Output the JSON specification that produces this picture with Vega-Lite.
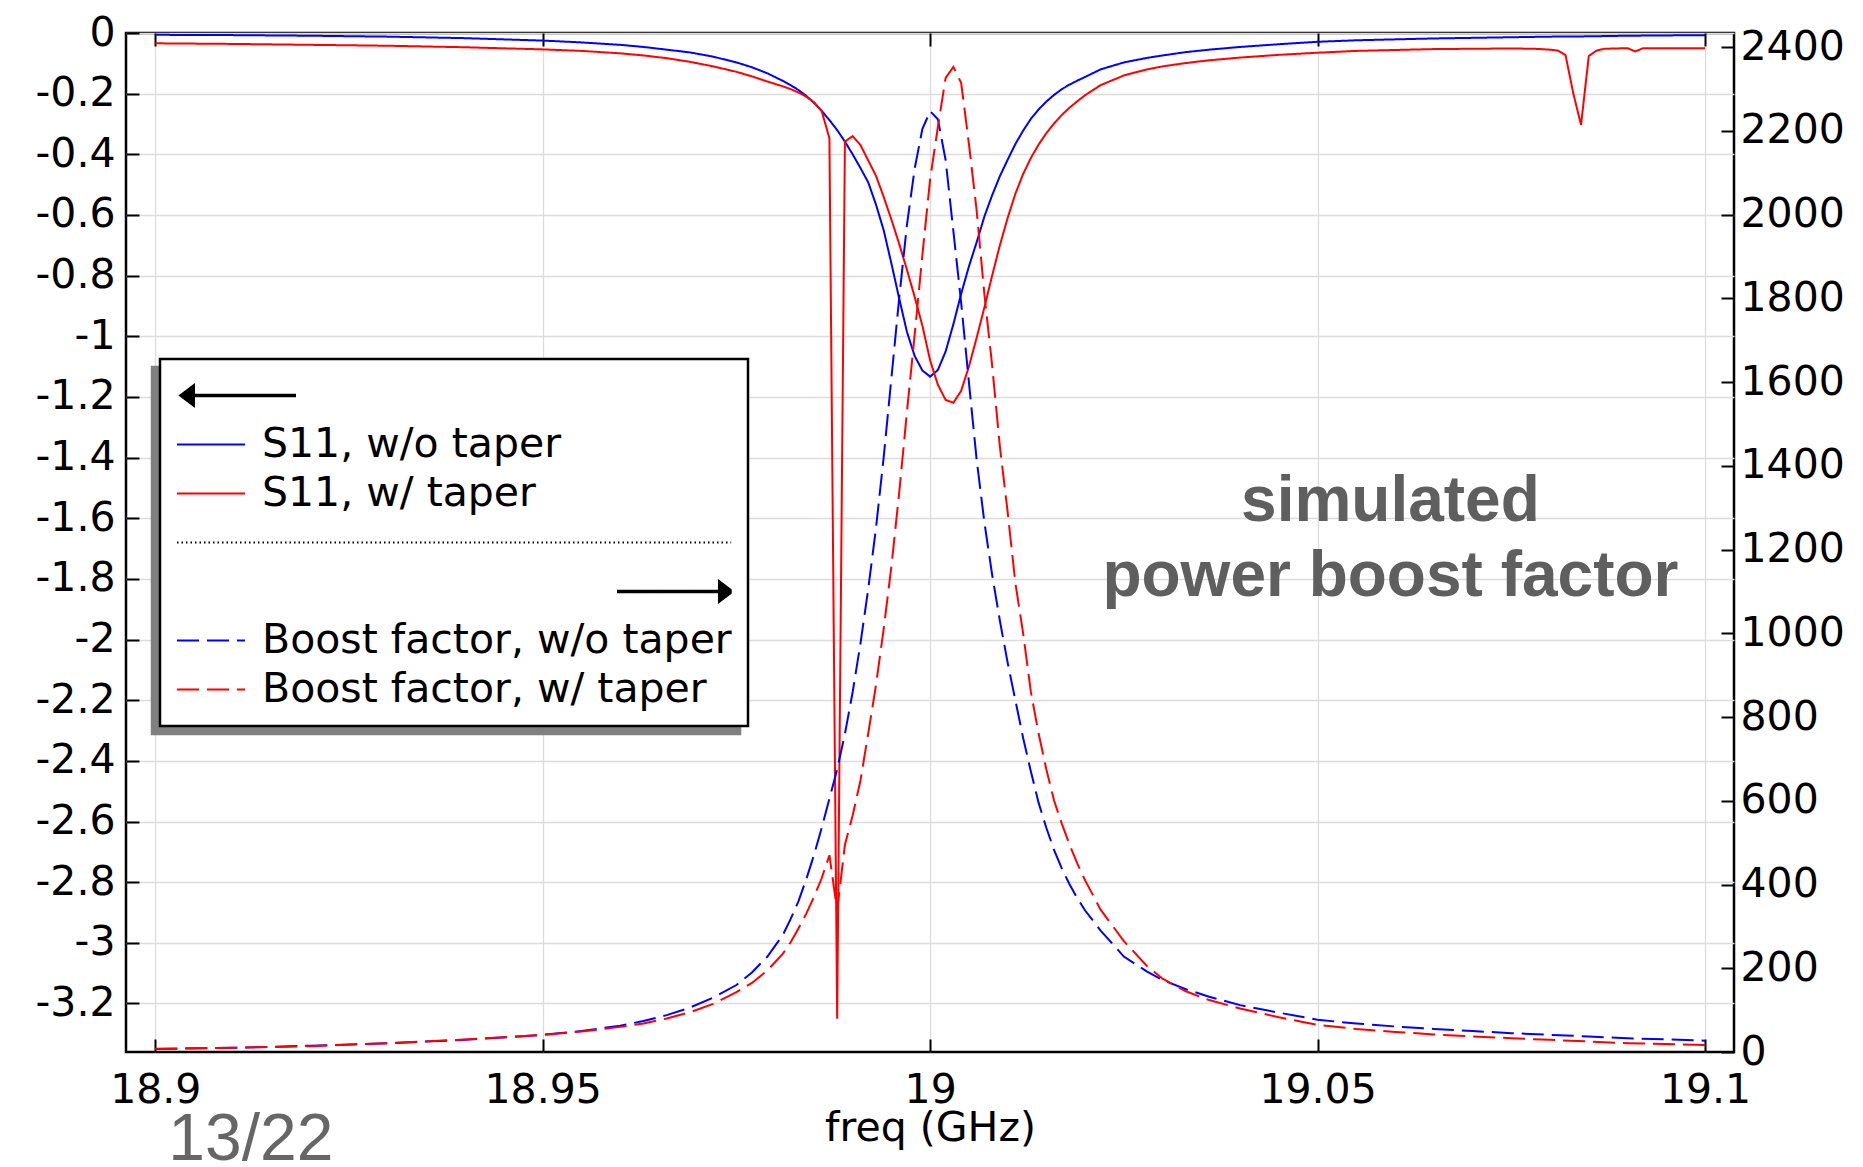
{
  "$schema": "https://vega.github.io/schema/vega-lite/v6.json",
  "width": 1608,
  "height": 1019,
  "autosize": {"type": "none"},
  "padding": {"left": 126, "top": 33, "right": 129, "bottom": 115},
  "background": "white",
  "config": {
    "view": {"stroke": "black", "strokeWidth": 2.5},
    "axis": {
      "labelFont": "DejaVu Sans", "labelFontSize": 41, "labelColor": "black",
      "titleFont": "DejaVu Sans", "titleFontSize": 41, "titleFontWeight": "normal", "titleColor": "black",
      "tickColor": "black", "tickWidth": 2, "tickSize": -13, "domain": false,
      "gridColor": "#dcdcdc", "gridWidth": 1.3, "gridOpacity": 1,
      "labelFlush": false, "labelOverlap": false
    },
    "legend": {
      "orient": "none", "legendX": 34, "legendY": 326, "padding": 16, "rowPadding": 7, "clipHeight": 41,
      "fillColor": "white", "strokeColor": "black", "strokeWidth": 2.5,
      "symbolSize": 4624, "symbolStrokeWidth": 2,
      "labelFont": "DejaVu Sans", "labelFontSize": 41, "labelColor": "black", "labelLimit": 2000, "labelOffset": 16
    }
  },
  "datasets": {
    "s11": [
      {"f":18.900,"s":"S11, w/o taper","v":-0.006},{"f":18.910,"s":"S11, w/o taper","v":-0.007},{"f":18.920,"s":"S11, w/o taper","v":-0.009},{"f":18.930,"s":"S11, w/o taper","v":-0.012},{"f":18.940,"s":"S11, w/o taper","v":-0.017},{"f":18.950,"s":"S11, w/o taper","v":-0.025},{"f":18.955,"s":"S11, w/o taper","v":-0.031},{"f":18.960,"s":"S11, w/o taper","v":-0.039},{"f":18.963,"s":"S11, w/o taper","v":-0.046},{"f":18.966,"s":"S11, w/o taper","v":-0.055},{"f":18.969,"s":"S11, w/o taper","v":-0.064},{"f":18.972,"s":"S11, w/o taper","v":-0.078},{"f":18.975,"s":"S11, w/o taper","v":-0.097},{"f":18.977,"s":"S11, w/o taper","v":-0.113},{"f":18.979,"s":"S11, w/o taper","v":-0.133},{"f":18.981,"s":"S11, w/o taper","v":-0.158},{"f":18.982,"s":"S11, w/o taper","v":-0.172},{"f":18.983,"s":"S11, w/o taper","v":-0.188},{"f":18.984,"s":"S11, w/o taper","v":-0.207},{"f":18.985,"s":"S11, w/o taper","v":-0.230},{"f":18.986,"s":"S11, w/o taper","v":-0.257},{"f":18.987,"s":"S11, w/o taper","v":-0.287},{"f":18.988,"s":"S11, w/o taper","v":-0.320},{"f":18.989,"s":"S11, w/o taper","v":-0.358},{"f":18.990,"s":"S11, w/o taper","v":-0.400},{"f":18.991,"s":"S11, w/o taper","v":-0.445},{"f":18.992,"s":"S11, w/o taper","v":-0.492},{"f":18.993,"s":"S11, w/o taper","v":-0.565},{"f":18.994,"s":"S11, w/o taper","v":-0.650},{"f":18.995,"s":"S11, w/o taper","v":-0.760},{"f":18.996,"s":"S11, w/o taper","v":-0.875},{"f":18.997,"s":"S11, w/o taper","v":-0.985},{"f":18.998,"s":"S11, w/o taper","v":-1.065},{"f":18.999,"s":"S11, w/o taper","v":-1.113},{"f":19.000,"s":"S11, w/o taper","v":-1.133},{"f":19.001,"s":"S11, w/o taper","v":-1.111},{"f":19.002,"s":"S11, w/o taper","v":-1.050},{"f":19.003,"s":"S11, w/o taper","v":-0.960},{"f":19.004,"s":"S11, w/o taper","v":-0.860},{"f":19.005,"s":"S11, w/o taper","v":-0.770},{"f":19.006,"s":"S11, w/o taper","v":-0.690},{"f":19.007,"s":"S11, w/o taper","v":-0.605},{"f":19.008,"s":"S11, w/o taper","v":-0.535},{"f":19.009,"s":"S11, w/o taper","v":-0.472},{"f":19.010,"s":"S11, w/o taper","v":-0.418},{"f":19.011,"s":"S11, w/o taper","v":-0.366},{"f":19.012,"s":"S11, w/o taper","v":-0.322},{"f":19.013,"s":"S11, w/o taper","v":-0.283},{"f":19.014,"s":"S11, w/o taper","v":-0.252},{"f":19.015,"s":"S11, w/o taper","v":-0.226},{"f":19.016,"s":"S11, w/o taper","v":-0.204},{"f":19.017,"s":"S11, w/o taper","v":-0.185},{"f":19.018,"s":"S11, w/o taper","v":-0.170},{"f":19.019,"s":"S11, w/o taper","v":-0.157},{"f":19.020,"s":"S11, w/o taper","v":-0.145},{"f":19.022,"s":"S11, w/o taper","v":-0.120},{"f":19.025,"s":"S11, w/o taper","v":-0.097},{"f":19.028,"s":"S11, w/o taper","v":-0.082},{"f":19.030,"s":"S11, w/o taper","v":-0.074},{"f":19.033,"s":"S11, w/o taper","v":-0.063},{"f":19.036,"s":"S11, w/o taper","v":-0.055},{"f":19.040,"s":"S11, w/o taper","v":-0.046},{"f":19.045,"s":"S11, w/o taper","v":-0.037},{"f":19.050,"s":"S11, w/o taper","v":-0.029},{"f":19.055,"s":"S11, w/o taper","v":-0.024},{"f":19.060,"s":"S11, w/o taper","v":-0.021},{"f":19.065,"s":"S11, w/o taper","v":-0.018},{"f":19.070,"s":"S11, w/o taper","v":-0.016},{"f":19.075,"s":"S11, w/o taper","v":-0.014},{"f":19.080,"s":"S11, w/o taper","v":-0.012},{"f":19.085,"s":"S11, w/o taper","v":-0.011},{"f":19.090,"s":"S11, w/o taper","v":-0.009},{"f":19.095,"s":"S11, w/o taper","v":-0.008},{"f":19.100,"s":"S11, w/o taper","v":-0.007},
      {"f":18.900,"s":"S11, w/ taper","v":-0.034},{"f":18.910,"s":"S11, w/ taper","v":-0.036},{"f":18.920,"s":"S11, w/ taper","v":-0.039},{"f":18.930,"s":"S11, w/ taper","v":-0.042},{"f":18.940,"s":"S11, w/ taper","v":-0.047},{"f":18.950,"s":"S11, w/ taper","v":-0.054},{"f":18.955,"s":"S11, w/ taper","v":-0.059},{"f":18.960,"s":"S11, w/ taper","v":-0.067},{"f":18.963,"s":"S11, w/ taper","v":-0.074},{"f":18.966,"s":"S11, w/ taper","v":-0.083},{"f":18.969,"s":"S11, w/ taper","v":-0.095},{"f":18.972,"s":"S11, w/ taper","v":-0.110},{"f":18.975,"s":"S11, w/ taper","v":-0.128},{"f":18.977,"s":"S11, w/ taper","v":-0.143},{"f":18.979,"s":"S11, w/ taper","v":-0.160},{"f":18.981,"s":"S11, w/ taper","v":-0.176},{"f":18.982,"s":"S11, w/ taper","v":-0.185},{"f":18.983,"s":"S11, w/ taper","v":-0.196},{"f":18.984,"s":"S11, w/ taper","v":-0.210},{"f":18.985,"s":"S11, w/ taper","v":-0.228},{"f":18.986,"s":"S11, w/ taper","v":-0.257},{"f":18.987,"s":"S11, w/ taper","v":-0.347},{"f":18.988,"s":"S11, w/ taper","v":-3.250},{"f":18.989,"s":"S11, w/ taper","v":-0.358},{"f":18.990,"s":"S11, w/ taper","v":-0.340},{"f":18.991,"s":"S11, w/ taper","v":-0.369},{"f":18.992,"s":"S11, w/ taper","v":-0.420},{"f":18.993,"s":"S11, w/ taper","v":-0.470},{"f":18.994,"s":"S11, w/ taper","v":-0.540},{"f":18.995,"s":"S11, w/ taper","v":-0.615},{"f":18.996,"s":"S11, w/ taper","v":-0.695},{"f":18.997,"s":"S11, w/ taper","v":-0.780},{"f":18.998,"s":"S11, w/ taper","v":-0.870},{"f":18.999,"s":"S11, w/ taper","v":-0.965},{"f":19.000,"s":"S11, w/ taper","v":-1.080},{"f":19.001,"s":"S11, w/ taper","v":-1.160},{"f":19.002,"s":"S11, w/ taper","v":-1.210},{"f":19.003,"s":"S11, w/ taper","v":-1.219},{"f":19.004,"s":"S11, w/ taper","v":-1.180},{"f":19.005,"s":"S11, w/ taper","v":-1.100},{"f":19.006,"s":"S11, w/ taper","v":-1.005},{"f":19.007,"s":"S11, w/ taper","v":-0.905},{"f":19.008,"s":"S11, w/ taper","v":-0.800},{"f":19.009,"s":"S11, w/ taper","v":-0.700},{"f":19.010,"s":"S11, w/ taper","v":-0.610},{"f":19.011,"s":"S11, w/ taper","v":-0.530},{"f":19.012,"s":"S11, w/ taper","v":-0.465},{"f":19.013,"s":"S11, w/ taper","v":-0.412},{"f":19.014,"s":"S11, w/ taper","v":-0.368},{"f":19.015,"s":"S11, w/ taper","v":-0.330},{"f":19.016,"s":"S11, w/ taper","v":-0.298},{"f":19.017,"s":"S11, w/ taper","v":-0.270},{"f":19.018,"s":"S11, w/ taper","v":-0.246},{"f":19.019,"s":"S11, w/ taper","v":-0.225},{"f":19.020,"s":"S11, w/ taper","v":-0.205},{"f":19.022,"s":"S11, w/ taper","v":-0.172},{"f":19.025,"s":"S11, w/ taper","v":-0.140},{"f":19.028,"s":"S11, w/ taper","v":-0.120},{"f":19.030,"s":"S11, w/ taper","v":-0.110},{"f":19.033,"s":"S11, w/ taper","v":-0.099},{"f":19.036,"s":"S11, w/ taper","v":-0.090},{"f":19.040,"s":"S11, w/ taper","v":-0.081},{"f":19.045,"s":"S11, w/ taper","v":-0.072},{"f":19.050,"s":"S11, w/ taper","v":-0.065},{"f":19.055,"s":"S11, w/ taper","v":-0.059},{"f":19.060,"s":"S11, w/ taper","v":-0.056},{"f":19.065,"s":"S11, w/ taper","v":-0.053},{"f":19.070,"s":"S11, w/ taper","v":-0.052},{"f":19.075,"s":"S11, w/ taper","v":-0.051},{"f":19.078,"s":"S11, w/ taper","v":-0.052},{"f":19.080,"s":"S11, w/ taper","v":-0.055},{"f":19.081,"s":"S11, w/ taper","v":-0.058},{"f":19.082,"s":"S11, w/ taper","v":-0.073},{"f":19.083,"s":"S11, w/ taper","v":-0.199},{"f":19.084,"s":"S11, w/ taper","v":-0.303},{"f":19.085,"s":"S11, w/ taper","v":-0.076},{"f":19.086,"s":"S11, w/ taper","v":-0.058},{"f":19.087,"s":"S11, w/ taper","v":-0.052},{"f":19.090,"s":"S11, w/ taper","v":-0.050},{"f":19.091,"s":"S11, w/ taper","v":-0.061},{"f":19.092,"s":"S11, w/ taper","v":-0.050},{"f":19.100,"s":"S11, w/ taper","v":-0.050}
    ],
    "boost": [
      {"f":18.900,"s":"Boost factor, w/o taper","b":7},{"f":18.910,"s":"Boost factor, w/o taper","b":10},{"f":18.920,"s":"Boost factor, w/o taper","b":15},{"f":18.930,"s":"Boost factor, w/o taper","b":21},{"f":18.940,"s":"Boost factor, w/o taper","b":29},{"f":18.950,"s":"Boost factor, w/o taper","b":41},{"f":18.955,"s":"Boost factor, w/o taper","b":50},{"f":18.960,"s":"Boost factor, w/o taper","b":63},{"f":18.963,"s":"Boost factor, w/o taper","b":74},{"f":18.966,"s":"Boost factor, w/o taper","b":88},{"f":18.969,"s":"Boost factor, w/o taper","b":106},{"f":18.972,"s":"Boost factor, w/o taper","b":130},{"f":18.975,"s":"Boost factor, w/o taper","b":160},{"f":18.977,"s":"Boost factor, w/o taper","b":190},{"f":18.979,"s":"Boost factor, w/o taper","b":228},{"f":18.981,"s":"Boost factor, w/o taper","b":280},{"f":18.982,"s":"Boost factor, w/o taper","b":318},{"f":18.983,"s":"Boost factor, w/o taper","b":360},{"f":18.984,"s":"Boost factor, w/o taper","b":412},{"f":18.985,"s":"Boost factor, w/o taper","b":470},{"f":18.986,"s":"Boost factor, w/o taper","b":535},{"f":18.987,"s":"Boost factor, w/o taper","b":605},{"f":18.988,"s":"Boost factor, w/o taper","b":675},{"f":18.989,"s":"Boost factor, w/o taper","b":760},{"f":18.990,"s":"Boost factor, w/o taper","b":860},{"f":18.991,"s":"Boost factor, w/o taper","b":975},{"f":18.992,"s":"Boost factor, w/o taper","b":1105},{"f":18.993,"s":"Boost factor, w/o taper","b":1250},{"f":18.994,"s":"Boost factor, w/o taper","b":1420},{"f":18.995,"s":"Boost factor, w/o taper","b":1610},{"f":18.996,"s":"Boost factor, w/o taper","b":1800},{"f":18.997,"s":"Boost factor, w/o taper","b":1975},{"f":18.998,"s":"Boost factor, w/o taper","b":2110},{"f":18.999,"s":"Boost factor, w/o taper","b":2205},{"f":19.000,"s":"Boost factor, w/o taper","b":2247},{"f":19.001,"s":"Boost factor, w/o taper","b":2228},{"f":19.002,"s":"Boost factor, w/o taper","b":2130},{"f":19.003,"s":"Boost factor, w/o taper","b":1960},{"f":19.004,"s":"Boost factor, w/o taper","b":1790},{"f":19.005,"s":"Boost factor, w/o taper","b":1600},{"f":19.006,"s":"Boost factor, w/o taper","b":1415},{"f":19.007,"s":"Boost factor, w/o taper","b":1265},{"f":19.008,"s":"Boost factor, w/o taper","b":1140},{"f":19.009,"s":"Boost factor, w/o taper","b":1030},{"f":19.010,"s":"Boost factor, w/o taper","b":930},{"f":19.011,"s":"Boost factor, w/o taper","b":840},{"f":19.012,"s":"Boost factor, w/o taper","b":750},{"f":19.013,"s":"Boost factor, w/o taper","b":670},{"f":19.014,"s":"Boost factor, w/o taper","b":595},{"f":19.015,"s":"Boost factor, w/o taper","b":535},{"f":19.016,"s":"Boost factor, w/o taper","b":482},{"f":19.017,"s":"Boost factor, w/o taper","b":438},{"f":19.018,"s":"Boost factor, w/o taper","b":400},{"f":19.019,"s":"Boost factor, w/o taper","b":367},{"f":19.020,"s":"Boost factor, w/o taper","b":338},{"f":19.022,"s":"Boost factor, w/o taper","b":290},{"f":19.025,"s":"Boost factor, w/o taper","b":228},{"f":19.028,"s":"Boost factor, w/o taper","b":192},{"f":19.030,"s":"Boost factor, w/o taper","b":172},{"f":19.033,"s":"Boost factor, w/o taper","b":150},{"f":19.036,"s":"Boost factor, w/o taper","b":132},{"f":19.040,"s":"Boost factor, w/o taper","b":112},{"f":19.045,"s":"Boost factor, w/o taper","b":94},{"f":19.050,"s":"Boost factor, w/o taper","b":77},{"f":19.055,"s":"Boost factor, w/o taper","b":68},{"f":19.060,"s":"Boost factor, w/o taper","b":61},{"f":19.065,"s":"Boost factor, w/o taper","b":55},{"f":19.070,"s":"Boost factor, w/o taper","b":50},{"f":19.075,"s":"Boost factor, w/o taper","b":45},{"f":19.080,"s":"Boost factor, w/o taper","b":41},{"f":19.085,"s":"Boost factor, w/o taper","b":37},{"f":19.090,"s":"Boost factor, w/o taper","b":33},{"f":19.095,"s":"Boost factor, w/o taper","b":30},{"f":19.100,"s":"Boost factor, w/o taper","b":27},
      {"f":18.900,"s":"Boost factor, w/ taper","b":8},{"f":18.910,"s":"Boost factor, w/ taper","b":10},{"f":18.920,"s":"Boost factor, w/ taper","b":14},{"f":18.930,"s":"Boost factor, w/ taper","b":21},{"f":18.940,"s":"Boost factor, w/ taper","b":30},{"f":18.950,"s":"Boost factor, w/ taper","b":41},{"f":18.955,"s":"Boost factor, w/ taper","b":49},{"f":18.960,"s":"Boost factor, w/ taper","b":60},{"f":18.963,"s":"Boost factor, w/ taper","b":68},{"f":18.966,"s":"Boost factor, w/ taper","b":80},{"f":18.969,"s":"Boost factor, w/ taper","b":95},{"f":18.972,"s":"Boost factor, w/ taper","b":115},{"f":18.975,"s":"Boost factor, w/ taper","b":143},{"f":18.977,"s":"Boost factor, w/ taper","b":165},{"f":18.979,"s":"Boost factor, w/ taper","b":195},{"f":18.981,"s":"Boost factor, w/ taper","b":235},{"f":18.982,"s":"Boost factor, w/ taper","b":262},{"f":18.983,"s":"Boost factor, w/ taper","b":295},{"f":18.984,"s":"Boost factor, w/ taper","b":330},{"f":18.985,"s":"Boost factor, w/ taper","b":370},{"f":18.986,"s":"Boost factor, w/ taper","b":415},{"f":18.987,"s":"Boost factor, w/ taper","b":470},{"f":18.988,"s":"Boost factor, w/ taper","b":338},{"f":18.989,"s":"Boost factor, w/ taper","b":495},{"f":18.990,"s":"Boost factor, w/ taper","b":565},{"f":18.991,"s":"Boost factor, w/ taper","b":648},{"f":18.992,"s":"Boost factor, w/ taper","b":760},{"f":18.993,"s":"Boost factor, w/ taper","b":875},{"f":18.994,"s":"Boost factor, w/ taper","b":1010},{"f":18.995,"s":"Boost factor, w/ taper","b":1160},{"f":18.996,"s":"Boost factor, w/ taper","b":1335},{"f":18.997,"s":"Boost factor, w/ taper","b":1528},{"f":18.998,"s":"Boost factor, w/ taper","b":1713},{"f":18.999,"s":"Boost factor, w/ taper","b":1904},{"f":19.000,"s":"Boost factor, w/ taper","b":2085},{"f":19.001,"s":"Boost factor, w/ taper","b":2210},{"f":19.002,"s":"Boost factor, w/ taper","b":2327},{"f":19.003,"s":"Boost factor, w/ taper","b":2353},{"f":19.004,"s":"Boost factor, w/ taper","b":2315},{"f":19.005,"s":"Boost factor, w/ taper","b":2170},{"f":19.006,"s":"Boost factor, w/ taper","b":2010},{"f":19.007,"s":"Boost factor, w/ taper","b":1810},{"f":19.008,"s":"Boost factor, w/ taper","b":1640},{"f":19.009,"s":"Boost factor, w/ taper","b":1446},{"f":19.010,"s":"Boost factor, w/ taper","b":1290},{"f":19.011,"s":"Boost factor, w/ taper","b":1120},{"f":19.012,"s":"Boost factor, w/ taper","b":1000},{"f":19.013,"s":"Boost factor, w/ taper","b":860},{"f":19.014,"s":"Boost factor, w/ taper","b":760},{"f":19.015,"s":"Boost factor, w/ taper","b":675},{"f":19.016,"s":"Boost factor, w/ taper","b":600},{"f":19.017,"s":"Boost factor, w/ taper","b":545},{"f":19.018,"s":"Boost factor, w/ taper","b":495},{"f":19.019,"s":"Boost factor, w/ taper","b":450},{"f":19.020,"s":"Boost factor, w/ taper","b":410},{"f":19.022,"s":"Boost factor, w/ taper","b":340},{"f":19.025,"s":"Boost factor, w/ taper","b":265},{"f":19.028,"s":"Boost factor, w/ taper","b":205},{"f":19.030,"s":"Boost factor, w/ taper","b":175},{"f":19.033,"s":"Boost factor, w/ taper","b":145},{"f":19.036,"s":"Boost factor, w/ taper","b":124},{"f":19.040,"s":"Boost factor, w/ taper","b":104},{"f":19.045,"s":"Boost factor, w/ taper","b":83},{"f":19.050,"s":"Boost factor, w/ taper","b":65},{"f":19.055,"s":"Boost factor, w/ taper","b":55},{"f":19.060,"s":"Boost factor, w/ taper","b":48},{"f":19.065,"s":"Boost factor, w/ taper","b":42},{"f":19.070,"s":"Boost factor, w/ taper","b":37},{"f":19.075,"s":"Boost factor, w/ taper","b":33},{"f":19.080,"s":"Boost factor, w/ taper","b":29},{"f":19.085,"s":"Boost factor, w/ taper","b":25},{"f":19.090,"s":"Boost factor, w/ taper","b":21},{"f":19.095,"s":"Boost factor, w/ taper","b":19},{"f":19.100,"s":"Boost factor, w/ taper","b":17}
    ]
  },
  "layer": [
    {
      "data": {"name": "s11"},
      "mark": {"type": "line", "strokeWidth": 2, "clip": true},
      "encoding": {
        "x": {"field": "f", "type": "quantitative",
              "scale": {"domain": [18.89622, 19.10374], "nice": false, "zero": false},
              "axis": {"orient": "bottom", "values": [18.9, 18.95, 19, 19.05, 19.1], "format": "~g", "grid": true,
                       "labelPadding": 31, "title": "freq (GHz)", "titleY": 88, "titleBaseline": "alphabetic"}},
        "y": {"field": "v", "type": "quantitative",
              "scale": {"domain": [-3.36, 0], "nice": false, "zero": false},
              "axis": {"orient": "left", "values": [0, -0.2, -0.4, -0.6, -0.8, -1, -1.2, -1.4, -1.6, -1.8, -2, -2.2, -2.4, -2.6, -2.8, -3, -3.2],
                       "labelExpr": "'' + datum.value", "grid": true, "labelPadding": 24, "title": null}},
        "color": {"field": "s", "type": "nominal",
                  "scale": {"domain": ["←", "S11, w/o taper", "S11, w/ taper", "sep", "→", "Boost factor, w/o taper", "Boost factor, w/ taper"],
                            "range": ["black", "blue", "red", "black", "black", "blue", "red"]},
                  "legend": {"title": null, "zindex": 1,
                             "labelExpr": "datum.value === '←' || datum.value === '→' || datum.value === 'sep' ? '' : datum.label"}},
        "strokeDash": {"field": "s", "type": "nominal",
                  "scale": {"domain": ["←", "S11, w/o taper", "S11, w/ taper", "sep", "→", "Boost factor, w/o taper", "Boost factor, w/ taper"],
                            "range": [[1, 0], [1, 0], [1, 0], [1.5, 3], [1, 0], [22, 8], [22, 8]]},
                  "legend": {"title": null, "zindex": 1,
                             "labelExpr": "datum.value === '←' || datum.value === '→' || datum.value === 'sep' ? '' : datum.label"}},
        "opacity": {"field": "s", "type": "nominal",
                  "scale": {"domain": ["Boost factor, w/ taper", "Boost factor, w/o taper", "→", "sep", "S11, w/ taper", "S11, w/o taper", "←"],
                            "range": [1, 1, 1, 1, 1, 1, 1]},
                  "legend": {"title": null, "zindex": 0, "legendX": 26, "legendY": 334,
                             "fillColor": "#808080", "strokeColor": "#808080", "symbolOpacity": 0, "labelOpacity": 0,
                             "labelExpr": "datum.value === '←' || datum.value === '→' || datum.value === 'sep' ? '' : datum.label"}}
      }
    },
    {
      "data": {"name": "boost"},
      "mark": {"type": "line", "strokeWidth": 2, "clip": true},
      "encoding": {
        "x": {"field": "f", "type": "quantitative",
              "scale": {"domain": [18.89622, 19.10374], "nice": false, "zero": false},
              "axis": {"orient": "top", "values": [18.9, 18.95, 19, 19.05, 19.1], "labels": false, "grid": false, "title": null}},
        "y": {"field": "b", "type": "quantitative",
              "scale": {"domain": [0, 2434], "nice": false, "zero": false},
              "axis": {"orient": "right", "values": [0, 200, 400, 600, 800, 1000, 1200, 1400, 1600, 1800, 2000, 2200, 2400],
                       "format": "d", "grid": false, "labelPadding": 19, "title": null}},
        "color": {"field": "s", "type": "nominal",
                  "scale": {"domain": ["←", "S11, w/o taper", "S11, w/ taper", "sep", "→", "Boost factor, w/o taper", "Boost factor, w/ taper"],
                            "range": ["black", "blue", "red", "black", "black", "blue", "red"]},
                  "legend": {"title": null, "zindex": 1,
                             "labelExpr": "datum.value === '←' || datum.value === '→' || datum.value === 'sep' ? '' : datum.label"}},
        "strokeDash": {"field": "s", "type": "nominal",
                  "scale": {"domain": ["←", "S11, w/o taper", "S11, w/ taper", "sep", "→", "Boost factor, w/o taper", "Boost factor, w/ taper"],
                            "range": [[1, 0], [1, 0], [1, 0], [1.5, 3], [1, 0], [22, 8], [22, 8]]},
                  "legend": {"title": null, "zindex": 1,
                             "labelExpr": "datum.value === '←' || datum.value === '→' || datum.value === 'sep' ? '' : datum.label"}}
      }
    },
    {
      "data": {"name": "s11"},
      "mark": {"type": "point", "opacity": 0, "size": 1},
      "encoding": {
        "x": {"field": "f", "type": "quantitative",
              "scale": {"domain": [18.89622, 19.10374], "nice": false, "zero": false}, "axis": null},
        "y": {"field": "v", "type": "quantitative",
              "scale": {"domain": [-3.36, 0], "nice": false, "zero": false}, "axis": null},
        "shape": {"field": "s", "type": "nominal",
                  "scale": {"domain": ["←", "S11, w/o taper", "S11, w/ taper", "sep", "→", "Boost factor, w/o taper", "Boost factor, w/ taper"],
                            "range": [
                              "M-0.91,0L2.5,0M-0.5,-0.02L2.5,-0.02M-0.5,0.02L2.5,0.02M-0.91,0L-0.5,-0.31L-0.5,0.31ZM-0.91,0L-0.5,-0.25M-0.91,0L-0.5,-0.19M-0.91,0L-0.5,-0.13M-0.91,0L-0.5,-0.07M-0.91,0L-0.5,0.07M-0.91,0L-0.5,0.13M-0.91,0L-0.5,0.19M-0.91,0L-0.5,0.25",
                              "stroke", "stroke",
                              "M-1,0L15.3,0",
                              "M11.94,0L15.35,0M11.94,-0.02L14.95,-0.02M11.94,0.02L14.95,0.02M15.35,0L14.94,-0.31L14.94,0.31ZM15.35,0L14.94,-0.25M15.35,0L14.94,-0.19M15.35,0L14.94,-0.13M15.35,0L14.94,-0.07M15.35,0L14.94,0.07M15.35,0L14.94,0.13M15.35,0L14.94,0.19M15.35,0L14.94,0.25",
                              "stroke", "stroke"]},
                  "legend": {"title": null, "zindex": 1,
                             "labelExpr": "datum.value === '←' || datum.value === '→' || datum.value === 'sep' ? '' : datum.label"}}
      }
    },
    {
      "data": {"values": [{}]},
      "mark": {"type": "text", "text": ["simulated", "power boost factor"], "font": "Liberation Sans", "fontSize": 64, "fontWeight": "bold",
               "fill": "#5f5f5f", "align": "center", "baseline": "alphabetic", "lineHeight": 75},
      "encoding": {
        "x": {"datum": 19.0594, "type": "quantitative", "scale": {"domain": [18.89622, 19.10374], "nice": false, "zero": false}, "axis": null},
        "y": {"datum": -1.609, "type": "quantitative", "scale": {"domain": [-3.36, 0], "nice": false, "zero": false}, "axis": null}
      }
    },
    {
      "data": {"values": [{}]},
      "mark": {"type": "text", "text": "13/22", "font": "Liberation Sans", "fontSize": 66,
               "fill": "#666666", "align": "left", "baseline": "alphabetic"},
      "encoding": {
        "x": {"datum": 18.90167, "type": "quantitative", "scale": {"domain": [18.89622, 19.10374], "nice": false, "zero": false}, "axis": null},
        "y": {"datum": -3.716, "type": "quantitative", "scale": {"domain": [-3.36, 0], "nice": false, "zero": false}, "axis": null}
      }
    }
  ],
  "resolve": {"scale": {"y": "independent"}, "axis": {"x": "independent"}}
}
